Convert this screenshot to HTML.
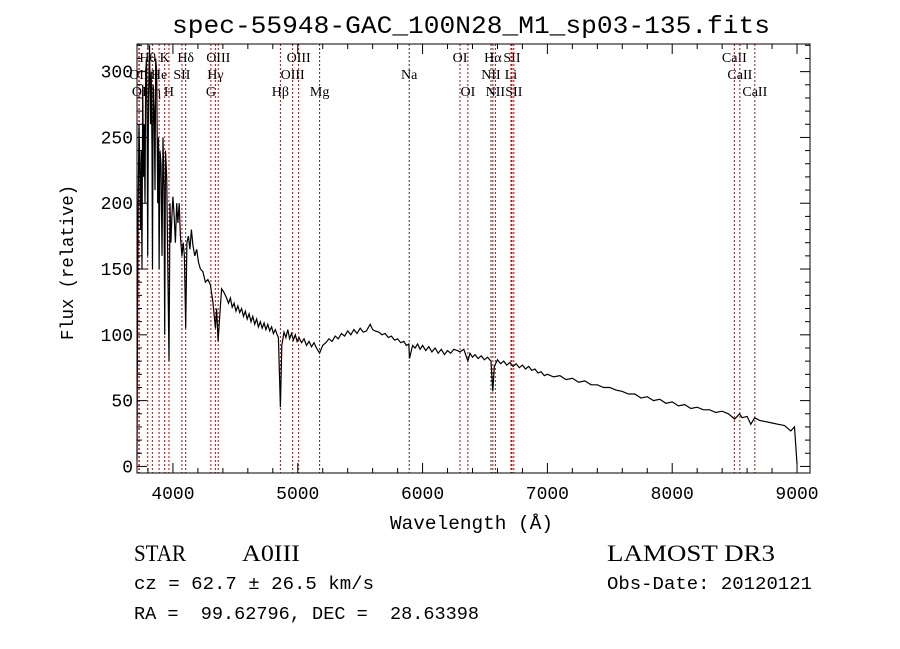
<!DOCTYPE html>
<html><head><meta charset="utf-8"><style>
body{margin:0;background:#fff}
svg{display:block}
.t{font-family:"Liberation Mono",monospace}
.s{font-family:"Liberation Serif",serif}
.m{font-family:"Liberation Mono",monospace;white-space:pre}
</style></head><body>
<svg id="chart" width="900" height="649" viewBox="0 0 900 649">
<rect width="900" height="649" fill="#fff"/>
<text class="t" x="172" y="33" font-size="25" textLength="598" lengthAdjust="spacingAndGlyphs">spec-55948-GAC_100N28_M1_sp03-135.fits</text>
<g id="lines"></g>
<g id="spec"></g>
<g id="axes"></g>
<text class="t" x="390" y="529" font-size="19" textLength="163" lengthAdjust="spacingAndGlyphs">Wavelength (Å)</text>
<text class="t" x="0" y="0" font-size="18" textLength="155" lengthAdjust="spacingAndGlyphs" transform="translate(73 340) rotate(-90)">Flux (relative)</text>
<text class="s" x="134" y="561" font-size="23" textLength="52" lengthAdjust="spacingAndGlyphs">STAR</text>
<text class="s" x="242" y="561" font-size="23" textLength="58" lengthAdjust="spacingAndGlyphs">A0III</text>
<text class="m" x="134" y="589" font-size="18" textLength="240" lengthAdjust="spacingAndGlyphs">cz = 62.7 ± 26.5 km/s</text>
<text class="m" x="134" y="619" font-size="18" textLength="345" lengthAdjust="spacingAndGlyphs" xml:space="preserve">RA =  99.62796, DEC =  28.63398</text>
<text class="s" x="607" y="561" font-size="23" textLength="168" lengthAdjust="spacingAndGlyphs">LAMOST DR3</text>
<text class="m" x="607" y="589" font-size="18" textLength="205" lengthAdjust="spacingAndGlyphs">Obs-Date: 20120121</text>
</svg>
<script>
const waves=[3712,3716,3722,3728,3734,3740,3746,3752,3758,3764,3770,3776,3782,3788,3794,3798,3804,3812,3820,3826,3832,3836,3842,3850,3856,3862,3870,3878,3884,3889,3896,3904,3912,3920,3928,3934,3940,3950,3960,3968,3976,3984,3992,4000,4010,4020,4030,4040,4050,4060,4072,4082,4092,4102,4112,4124,4136,4148,4160,4175,4190,4205,4220,4240,4260,4280,4300,4320,4340,4350,4362,4375,4390,4410,4430,4445,4460,4475,4490,4505,4520,4535,4550,4565,4580,4595,4610,4625,4640,4655,4670,4685,4700,4715,4730,4745,4760,4775,4790,4805,4820,4835,4845,4861,4872,4890,4905,4920,4935,4950,4965,4980,4995,5010,5030,5050,5070,5090,5110,5130,5150,5175,5200,5225,5250,5275,5300,5325,5350,5375,5400,5425,5450,5475,5500,5525,5550,5580,5600,5620,5650,5675,5700,5725,5750,5775,5800,5825,5850,5870,5890,5895,5920,5940,5960,5980,6000,6025,6050,6075,6100,6125,6150,6175,6200,6225,6250,6280,6300,6330,6363,6380,6400,6420,6445,6470,6495,6520,6548,6563,6575,6600,6625,6650,6675,6700,6725,6750,6775,6800,6825,6850,6875,6900,6925,6950,6975,7000,7050,7100,7150,7200,7250,7300,7350,7400,7450,7500,7550,7600,7650,7700,7750,7800,7850,7900,7950,8000,8050,8100,8150,8200,8250,8300,8350,8400,8450,8500,8540,8560,8600,8630,8660,8700,8750,8800,8850,8900,8950,8980,9000,9005];
const flux=[5,110,200,260,230,180,240,150,290,220,260,200,300,310,250,160,280,320,260,300,240,150,290,270,210,310,300,200,250,150,240,230,160,250,210,100,240,220,140,80,200,170,190,205,190,170,200,185,200,175,160,170,160,105,170,175,165,180,168,160,165,155,150,148,140,142,138,125,105,120,95,115,135,132,128,124,128,121,124,118,122,117,120,114,118,112,116,110,114,108,112,106,110,105,109,104,108,103,106,101,104,100,98,45,92,102,98,104,97,101,96,100,95,98,94,97,92,95,91,94,90,86,92,94,97,95,99,97,101,99,103,100,104,101,105,102,103,108,104,103,102,100,101,98,99,96,97,94,95,92,93,82,92,90,93,89,92,88,91,87,90,86,89,85,88,86,89,88,87,89,80,86,83,85,82,84,81,83,80,57,76,81,78,80,77,79,76,78,75,77,74,76,73,74,71,72,69,70,68,69,66,67,64,65,62,62,60,60,58,57,55,55,52,53,50,51,48,49,46,47,44,45,43,43,41,42,40,36,40,37,38,32,37,35,34,33,32,31,27,30,2];
const lineWaves=[3727,3730,3798,3835,3889,3934,3968,4072,4102,4304,4340,4363,4861,4959,5007,5175,5893,6300,6363,6548,6563,6583,6708,6716,6731,8498,8542,8662];
const lineLabels=["OII","OI","Hθ","Hη","He","K","H","SII","Hδ","G","Hγ","OIII","Hβ","OIII","OIII","Mg","Na","OI","OI","NII","Hα","NII","Li","SII","SII","CaII","CaII","CaII"];
const lineRows=[1,2,0,2,1,0,2,1,0,2,1,0,2,1,0,2,1,0,2,1,0,2,1,0,2,0,1,2];
const lineColor=["#c00","#c00","#c00","#c00","#c00","#c00","#c00","#c00","#333","#c00","#c00","#c00","#c00","#c00","#c00","#333","#333","#c00","#c00","#333","#c00","#333","#c00","#c00","#c00","#c00","#c00","#c00"];
const xTicks=[4000,5000,6000,7000,8000,9000];
const yTicks=[0,50,100,150,200,250,300];

const X0=137,X1=810,Y0=44,Y1=473;
const xMin=3712,xMax=9104,yMin=-5,yMax=321;
const sx=w=>X0+(w-xMin)/(xMax-xMin)*(X1-X0);
const sy=f=>Y1-(f-yMin)/(yMax-yMin)*(Y1-Y0);
const NS="http://www.w3.org/2000/svg";
function mk(tag,attrs,parent){const e=document.createElementNS(NS,tag);for(const k in attrs)e.setAttribute(k,attrs[k]);parent.appendChild(e);return e;}

const lg=document.getElementById('lines');
const rowY=[62,79,96];
lineWaves.forEach((w,i)=>{
  const l=mk('line',{x1:sx(w),x2:sx(w),y1:Y0,y2:Y1,stroke:lineColor[i],'stroke-width':1,'stroke-dasharray':'2,2'},lg);
  
  
  const t=mk('text',{x:sx(w),y:rowY[lineRows[i]],'font-size':14,'text-anchor':'middle',class:'s'},lg);
  t.textContent=lineLabels[i];
  
  
});

const sg=document.getElementById('spec');
const p=mk('polyline',{points:waves.map((w,i)=>sx(w).toFixed(1)+','+sy(flux[i]).toFixed(1)).join(' '),fill:'none',stroke:'#000','stroke-width':1.2},sg);



const ag=document.getElementById('axes');
const fr=mk('rect',{x:X0,y:Y0,width:X1-X0,height:Y1-Y0,fill:'none',stroke:'#000','stroke-width':1},ag);


for(let w=3800;w<=9100;w+=200){
  const major=w%1000===0,len=major?10:5;
  mk('line',{x1:sx(w),x2:sx(w),y1:Y1,y2:Y1-len,stroke:'#000'},ag);
  mk('line',{x1:sx(w),x2:sx(w),y1:Y0,y2:Y0+len,stroke:'#000'},ag);
}
xTicks.forEach(w=>{
  const t=mk('text',{x:sx(w),y:Y1+26,'font-size':18,'text-anchor':'middle',class:'t'},ag);
  t.textContent=w;
  
  
});
for(let f=0;f<=320;f+=10){
  const major=f%50===0,len=major?10:5;
  mk('line',{x1:X0,x2:X0+len,y1:sy(f),y2:sy(f),stroke:'#000'},ag);
  mk('line',{x1:X1,x2:X1-len,y1:sy(f),y2:sy(f),stroke:'#000'},ag);
}
yTicks.forEach(f=>{
  const t=mk('text',{x:X0-4,y:sy(f)+6,'font-size':18,'text-anchor':'end',class:'t'},ag);
  t.textContent=f;
  
  
});
</script>
</body></html>
